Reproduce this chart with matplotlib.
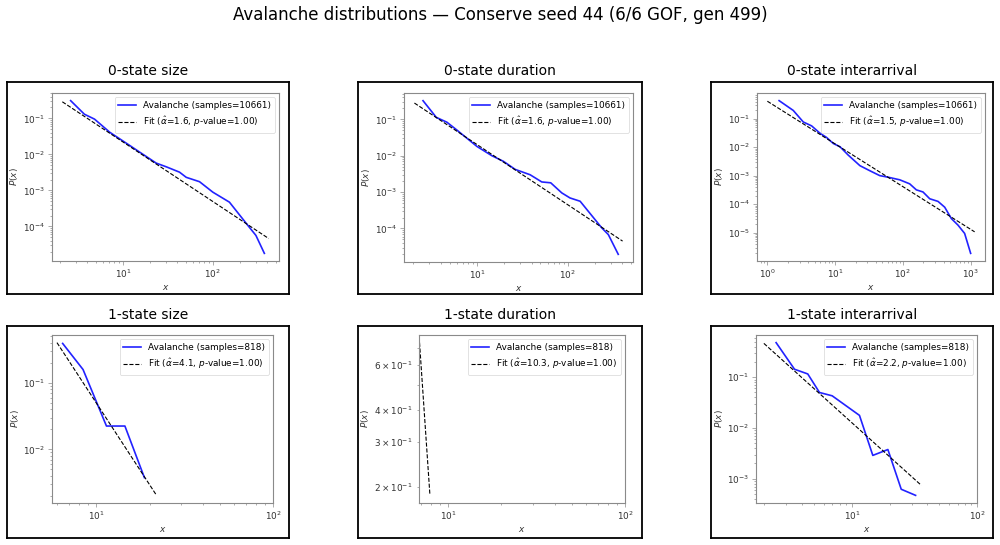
import matplotlib
matplotlib.use("Agg")
import matplotlib.pyplot as plt

W, H = 1000, 545

# ---- data ----
size0_x = [2.6, 3.7, 4.8, 7.1, 11.9, 15.3, 23.4, 30.3, 42.5, 50.5, 71, 100, 153, 245, 302, 375]
size0_y = [0.31, 0.13, 0.095, 0.041, 0.0175, 0.0115, 0.0057, 0.0045, 0.0032, 0.0023,
           0.00174, 0.00089, 0.00047, 0.000107, 5.6e-5, 1.78e-5]
size0_fit_x = [2.1, 419]
size0_fit_y = [0.288, 4.6e-5]

dur0_x = [2.55, 3.57, 4.68, 6.0, 10, 14.6, 19.6, 26.4, 38.5, 51.8, 65, 86, 106, 137, 237, 280, 360]
dur0_y = [0.325, 0.113, 0.083, 0.051, 0.018, 0.01, 0.007, 0.0042, 0.003, 0.0019, 0.0018,
          0.00095, 0.00069, 0.00056, 0.000104, 6.8e-5, 1.95e-5]
dur0_fit_x = [2.05, 402]
dur0_fit_y = [0.28, 4.5e-5]

inter0_x = [1.49, 2.41, 3.39, 4.5, 5.97, 7.48, 9.4, 11.8, 15.6, 23.2, 32.5, 45.6, 60.5, 90,
            126, 158, 198, 249, 330, 414, 519, 650, 815, 1000]
inter0_y = [0.43, 0.195, 0.0766, 0.056, 0.031, 0.022, 0.0135, 0.0104, 0.0053, 0.00226, 0.0015,
            0.00101, 0.00089, 0.00072, 0.00052, 0.00032, 0.00027, 0.000156, 0.000126, 7.9e-5,
            3.15e-5, 1.86e-5, 9.5e-6, 1.9e-6]
inter0_fit_x = [1.0, 1145]
inter0_fit_y = [0.41, 1.08e-5]

size1_x = [6.44, 8.4, 11.4, 14.5, 18.7]
size1_y = [0.389, 0.158, 0.0224, 0.0224, 0.00376]
size1_fit_x = [5.98, 21.9]
size1_fit_y = [0.40, 0.00204]

dur1_x = []
dur1_y = []
dur1_fit_x = [6.88, 7.88]
dur1_fit_y = [0.735, 0.185]

inter1_x = [2.48, 3.48, 4.44, 5.51, 6.96, 8.73, 11.5, 14.7, 19.4, 24.8, 32.3]
inter1_y = [0.48, 0.1435, 0.116, 0.05, 0.043, 0.0288, 0.0177, 0.00288, 0.00376, 0.00062, 0.00047]
inter1_fit_x = [1.98, 35.9]
inter1_fit_y = [0.464, 0.00074]

titles = ["0-state size", "0-state duration", "0-state interarrival",
          "1-state size", "1-state duration", "1-state interarrival"]
samples = [10661, 10661, 10661, 818, 818, 818]
alphas = [1.6, 1.6, 1.5, 4.1, 10.3, 2.2]
pvalues = [1.00, 1.00, 1.00, 1.00, 1.00, 1.00]

series = [(size0_x, size0_y, size0_fit_x, size0_fit_y),
          (dur0_x, dur0_y, dur0_fit_x, dur0_fit_y),
          (inter0_x, inter0_y, inter0_fit_x, inter0_fit_y),
          (size1_x, size1_y, size1_fit_x, size1_fit_y),
          (dur1_x, dur1_y, dur1_fit_x, dur1_fit_y),
          (inter1_x, inter1_y, inter1_fit_x, inter1_fit_y)]

# pixel boxes (left, top, right, bottom)
frames = [(7, 82, 289, 294), (358, 82, 642, 294), (711, 82, 993, 294),
          (7, 326, 289, 538), (358, 326, 642, 538), (711, 326, 993, 538)]
inners = [(52, 93, 279, 261), (404, 93, 633, 262), (757, 93, 985, 261),
          (52, 335, 273, 503), (419, 335, 625, 503), (756, 335, 977, 503)]


def rect(box):
    l, t, r, b = box
    return [l / W, 1 - b / H, (r - l) / W, (b - t) / H]


fig = plt.figure(figsize=(10, 5.45), dpi=100)
fig.suptitle("Avalanche distributions \u2014 Conserve seed 44 (6/6 GOF, gen 499)",
             fontsize=12, y=1 - 15 / H, va="center")

gray = "#8a8a8a"
for i in range(6):
    outer = fig.add_axes(rect(frames[i]))
    outer.set_xticks([])
    outer.set_yticks([])
    for s in outer.spines.values():
        s.set_linewidth(1.3)
        s.set_color("black")
    outer.set_title(titles[i], fontsize=10, pad=5)

    ax = fig.add_axes(rect(inners[i]))
    x, y, fx, fy = series[i]
    ax.plot(x, y, color="#2222ff", lw=1.2, label="Avalanche (samples=%d)" % samples[i])
    ax.plot(fx, fy, "k--", lw=0.8,
            label=r"Fit ($\hat{\alpha}$=%.1f, $p$-value=%.2f)" % (alphas[i], pvalues[i]))
    ax.set_xscale("log")
    ax.set_yscale("log")
    if i >= 3:
        ax.set_xlim(right=100)
    ax.set_xlabel("$x$", fontsize=6.4, labelpad=2, color="#333333")
    ax.set_ylabel("$P(x)$", fontsize=6.4, labelpad=2, color="#333333")
    ax.tick_params(which="both", labelsize=6.4, colors=gray, labelcolor="#333333", width=0.5)
    ax.tick_params(which="major", length=2.8, pad=2)
    ax.tick_params(which="minor", length=1.6)
    for s in ax.spines.values():
        s.set_color(gray)
        s.set_linewidth(0.8)
    leg = ax.legend(loc="upper right", fontsize=6.4, framealpha=0.8)
    leg.get_frame().set_linewidth(0.5)

fig.savefig("out.png", dpi=100)
